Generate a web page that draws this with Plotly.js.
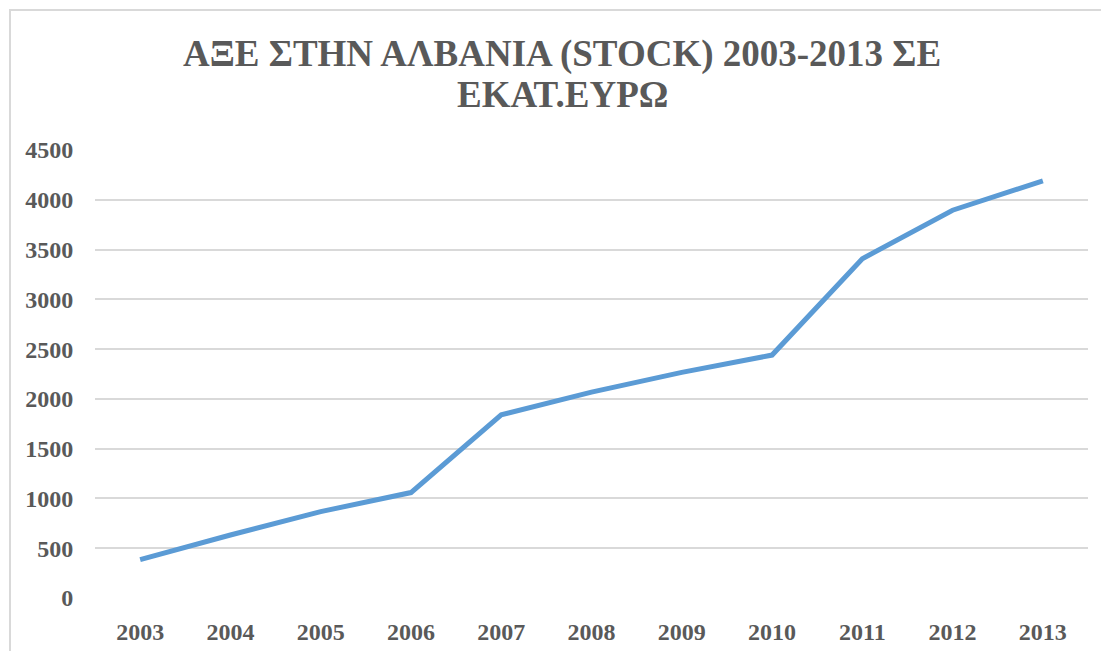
<!DOCTYPE html>
<html>
<head>
<meta charset="utf-8">
<script src="https://cdn.plot.ly/plotly-3.0.1.min.js"></script>
<style>
  html, body { margin: 0; padding: 0; background: #ffffff; overflow: hidden; }
  #frame { position: absolute; left: 9px; top: 9px; width: 1100px; height: 650px;
           border-left: 2px solid #d9d9d9; border-top: 2px solid #d9d9d9; }
  #chart { position: absolute; left: 0; top: 0; width: 1101px; height: 651px; }
</style>
</head>
<body>
<div id="frame"></div>
<div id="chart"></div>
<script>
const years = ['2003','2004','2005','2006','2007','2008','2009','2010','2011','2012','2013'];
const fdiStock = [385, 633, 868, 1059, 1840, 2068, 2266, 2440, 3408, 3895, 4191];
const titleLines = ['ΑΞΕ ΣΤΗΝ ΑΛΒΑΝΙΑ (STOCK) 2003-2013 ΣΕ', 'ΕΚΑΤ.ΕΥΡΩ'];

const fontFam = 'Liberation Serif';
const grey = '#595959';

const trace = {
  x: years,
  y: fdiStock,
  type: 'scatter',
  mode: 'lines',
  line: { color: '#5b9bd5', width: 5, shape: 'linear' },
  hoverinfo: 'x+y'
};

const titleFont = { family: fontFam, size: 37, color: grey, weight: 'bold' };

const layout = {
  width: 1101,
  height: 651,
  font: { family: fontFam, color: grey },
  paper_bgcolor: 'rgba(0,0,0,0)',
  plot_bgcolor: 'rgba(0,0,0,0)',
  margin: { l: 95, r: 13, t: 150, b: 53 },
  showlegend: false,
  annotations: [
    { text: '<b>' + titleLines[0] + '</b>', xref: 'paper', yref: 'paper', x: 0.4703, y: 1.2154,
      xanchor: 'center', yanchor: 'middle', showarrow: false, font: titleFont },
    { text: '<b>' + titleLines[1] + '</b>', xref: 'paper', yref: 'paper', x: 0.4703, y: 1.1228,
      xanchor: 'center', yanchor: 'middle', showarrow: false, font: titleFont }
  ],
  xaxis: {
    type: 'category',
    range: [-0.5, 10.5],
    showgrid: false,
    showline: false,
    zeroline: false,
    ticks: 'outside',
    ticklen: 12,
    tickcolor: 'rgba(0,0,0,0)',
    tickfont: { family: fontFam, size: 24, color: grey, weight: 'bold' }
  },
  yaxis: {
    range: [0, 4500],
    dtick: 500,
    tick0: 0,
    showgrid: true,
    gridcolor: '#d9d9d9',
    gridwidth: 1.5,
    zeroline: false,
    showline: false,
    ticks: 'outside',
    ticklen: 16,
    tickcolor: 'rgba(0,0,0,0)',
    tickfont: { family: fontFam, size: 24, color: grey, weight: 'bold' }
  }
};

Plotly.newPlot('chart', [trace], layout, { displayModeBar: false, responsive: false });
</script>
</body>
</html>
